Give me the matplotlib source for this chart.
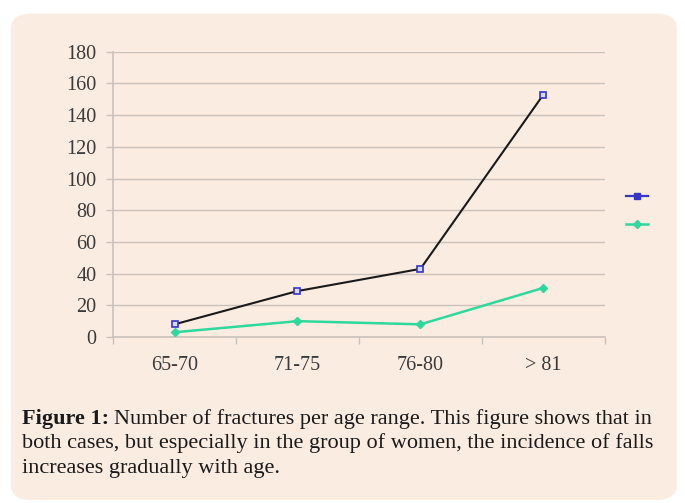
import matplotlib.pyplot as plt
from matplotlib.patches import FancyBboxPatch
from matplotlib.lines import Line2D

ages = ['65-70', '71-75', '76-80', '> 81']
women = [8, 29, 43, 153]
men = [3, 10, 8, 31]
yticks = list(range(0, 181, 20))

bg = '#fbece2'
grid_col = '#c9c2bb'
text_col = '#3a3a3a'
serif = 'Liberation Serif'

fig = plt.figure(figsize=(6.85, 5.03), dpi=100)
fig.patch.set_facecolor('white')

# rounded background panel behind everything
panel = FancyBboxPatch((0.016, 0.006), 0.972, 0.967,
                       boxstyle='round,pad=0,rounding_size=0.03',
                       transform=fig.transFigure, facecolor=bg,
                       edgecolor='none', zorder=-10)
fig.patches.append(panel)

ax = fig.add_axes([0.165, 0.330, 0.718, 0.567])
ax.set_facecolor('none')

x = list(range(len(ages)))
ax.plot(x, women, color='#1a1a1a', lw=1.5, marker='s', ms=5,
        mfc='#d8d8f0', mec='#3535c8', mew=1.2, zorder=3)
ax.plot(x, men, color='#2fd89c', lw=1.8, marker='D', ms=4,
        mfc='#2fd89c', mec='#2fd89c', zorder=3)

ax.set_xlim(-0.5, len(ages) - 0.5)
ax.set_ylim(0, 180)
ax.set_yticks(yticks)
ax.set_xticks(x)
ax.set_xticklabels(ages)
ax.set_xticks([i - 0.5 for i in range(len(ages) + 1)], minor=True)
ax.tick_params(axis='x', which='major', length=0, pad=14)
ax.tick_params(axis='x', which='minor', length=5, color=grid_col, width=1)
ax.tick_params(axis='y', length=5, color=grid_col, width=1, pad=7)
for lbl in ax.get_xticklabels() + ax.get_yticklabels():
    lbl.set_fontfamily(serif)
    lbl.set_fontsize(14.5)
    lbl.set_color(text_col)

ax.grid(axis='y', color=grid_col, lw=1)
ax.set_axisbelow(True)
for s in ['top', 'right']:
    ax.spines[s].set_visible(False)
for s in ['left', 'bottom']:
    ax.spines[s].set_color(grid_col)
    ax.spines[s].set_linewidth(1.2)

handles = [
    Line2D([], [], color='#3535c8', lw=1.6, marker='s', ms=5,
           mfc='#3535c8', mec='#3535c8'),
    Line2D([], [], color='#2fd89c', lw=1.8, marker='D', ms=4,
           mfc='#2fd89c', mec='#2fd89c'),
]
fig.legend(handles, ['', ''], loc='center', bbox_to_anchor=(0.93, 0.58),
           frameon=False, handlelength=1.6, labelspacing=1.0,
           handletextpad=0)

# caption
cap_size = 16
lines = ['Number of fractures per age range. This figure shows that in',
         'both cases, but especially in the group of women, the incidence of falls',
         'increases gradually with age.']
y0 = 0.158
t1 = fig.text(0.032, y0, 'Figure 1:', fontsize=cap_size, weight='bold',
              family=serif, color='#1a1a1a', va='baseline')
fig.canvas.draw()
x0 = t1.get_window_extent().x1 / fig.bbox.width + 0.007
fig.text(x0, y0, lines[0], fontsize=cap_size, family=serif,
         color='#1a1a1a', va='baseline')
fig.text(0.032, y0 - 0.049, lines[1], fontsize=cap_size, family=serif,
         color='#1a1a1a', va='baseline')
fig.text(0.032, y0 - 0.098, lines[2], fontsize=cap_size, family=serif,
         color='#1a1a1a', va='baseline')

fig.savefig('out.png', dpi=100, facecolor='white')
